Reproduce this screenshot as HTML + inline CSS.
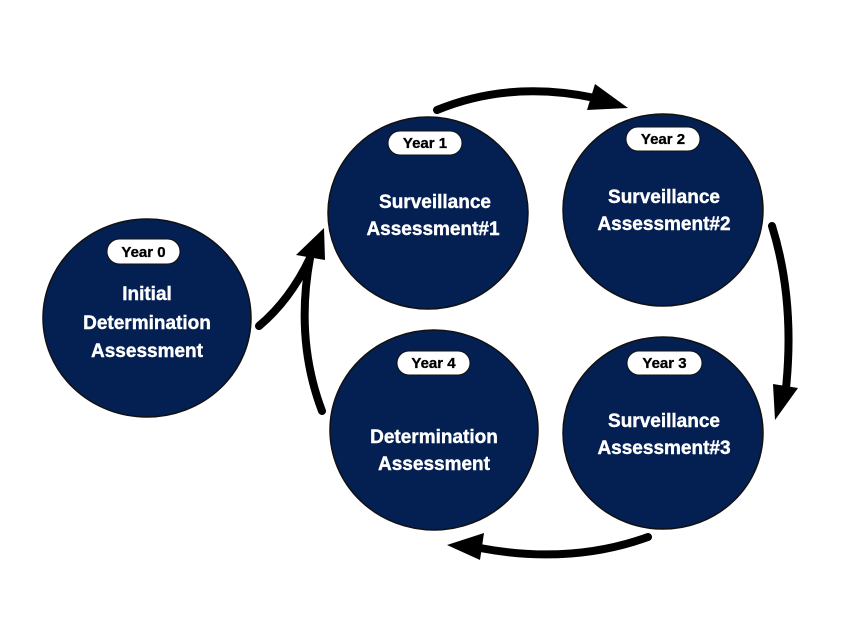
<!DOCTYPE html>
<html><head><meta charset="utf-8"><style>
html,body{margin:0;padding:0;background:#fff;}
svg{display:block;}
text{font-family:"Liberation Sans",sans-serif;font-weight:bold;}
</style></head><body>
<svg width="863" height="631" viewBox="0 0 863 631" xmlns="http://www.w3.org/2000/svg">
<rect width="863" height="631" fill="#fff"/>
<g fill="#041f52" stroke="#111" stroke-width="1.5">
<ellipse cx="147" cy="318" rx="104" ry="99"/>
<ellipse cx="428" cy="213" rx="100" ry="96"/>
<ellipse cx="663" cy="210" rx="100" ry="96"/>
<ellipse cx="663" cy="433" rx="100" ry="96"/>
<ellipse cx="434" cy="430" rx="104" ry="100"/>
</g>
<g fill="#fff" stroke="#111" stroke-width="1">
<rect x="107" y="239" width="73" height="25" rx="12.5"/>
<rect x="388" y="131" width="74" height="24" rx="12"/>
<rect x="626" y="127" width="74" height="24" rx="12"/>
<rect x="627" y="351" width="75" height="24" rx="12"/>
<rect x="397" y="351" width="73" height="24" rx="12"/>
</g>
<g font-size="15" fill="#000" text-anchor="middle" stroke="#000" stroke-width="0.3">
<text x="143.5" y="257">Year 0</text>
<text x="425" y="148">Year 1</text>
<text x="663" y="144">Year 2</text>
<text x="664.5" y="368">Year 3</text>
<text x="433.5" y="368">Year 4</text>
</g>
<g font-size="19" fill="#fff" text-anchor="middle" stroke="#fff" stroke-width="0.4">
<text x="147" y="300">Initial</text>
<text x="147" y="329">Determination</text>
<text x="147" y="357">Assessment</text>
<text x="435" y="208">Surveillance</text>
<text x="433" y="235">Assessment#1</text>
<text x="664" y="203">Surveillance</text>
<text x="664" y="230">Assessment#2</text>
<text x="664" y="427">Surveillance</text>
<text x="664" y="454">Assessment#3</text>
<text x="434" y="443">Determination</text>
<text x="434" y="470">Assessment</text>
</g>
<g fill="none" stroke="#000" stroke-width="8" stroke-linecap="round">
<path d="M437 110 Q510 80 595 98"/>
<path d="M772 226 Q795 300 786 388"/>
<path d="M648 537 Q570 565 480 548"/>
<path d="M322 411 Q295 340 310 258"/>
<path d="M259 326 Q290 300 310 258"/>
</g>
<g fill="#000">
<polygon points="595,84 628,108 587,110"/>
<polygon points="773,384 798,388 775,420"/>
<polygon points="484,533 447,545 480,560"/>
<polygon points="296,255 324,228 325,260"/>
</g>
</svg>
</body></html>
